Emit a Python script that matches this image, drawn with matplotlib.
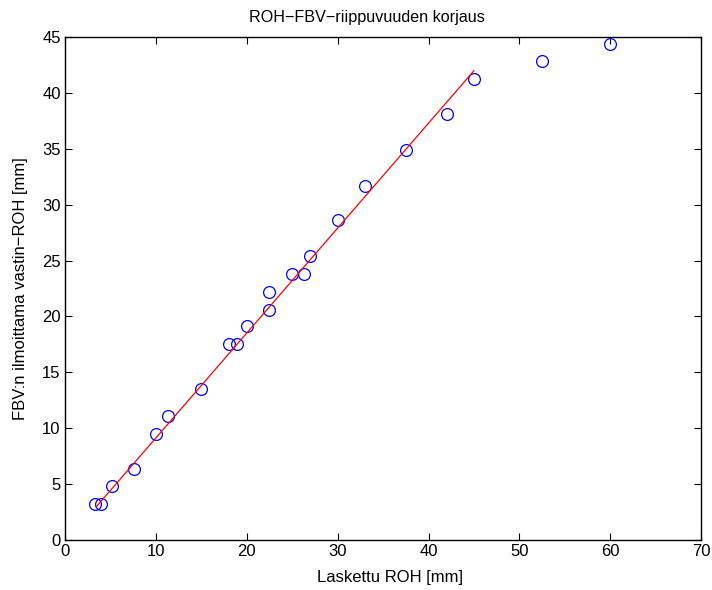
import numpy as np
import matplotlib
matplotlib.use("Agg")
import matplotlib.pyplot as plt

# measured points (computed ROH vs ROH reported by FBV)
laskettu_roh = [3.3, 4.0, 5.2, 7.6, 10.0, 11.3, 15.0, 18.1, 18.9, 20.0, 22.5, 22.5,
                25.0, 26.3, 27.0, 30.0, 33.0, 37.5, 42.0, 45.0, 52.5, 60.0]
fbv_roh = [3.2, 3.2, 4.8, 6.3, 9.5, 11.1, 13.5, 17.5, 17.5, 19.1, 20.6, 22.2,
           23.8, 23.8, 25.4, 28.6, 31.7, 34.9, 38.1, 41.3, 42.9, 44.4]

# fitted correction line endpoints
fit_x = [3.45, 45.0]
fit_y = [2.95, 42.0]

plt.rcParams['font.family'] = ['Liberation Sans', 'DejaVu Sans']
plt.rcParams['font.size'] = 12

fig = plt.figure(figsize=(7.12, 5.9), dpi=100)
ax = fig.add_axes([0.091, 0.085, 0.894, 0.852])

ax.plot(laskettu_roh, fbv_roh, 'o', markerfacecolor='none', markeredgecolor='blue',
        markersize=8.5, markeredgewidth=0.9)
ax.plot(fit_x, fit_y, '-', color='red', linewidth=0.9)

ax.set_xlim(0, 70)
ax.set_ylim(0, 45)
ax.set_xticks(np.arange(0, 71, 10))
ax.set_yticks(np.arange(0, 46, 5))
ax.tick_params(direction='in', length=5, top=True, right=True, labelsize=12, pad=3)
for s in ax.spines.values():
    s.set_linewidth(1.0)

ax.set_title('ROH\u2212FBV\u2212riippuvuuden korjaus', fontsize=11.6, x=0.474, pad=11)
ax.set_xlabel('Laskettu ROH [mm]', fontsize=12, labelpad=8, x=0.511)
ax.set_ylabel('FBV:n ilmoittama vastin\u2212ROH [mm]', fontsize=12, labelpad=10)

fig.savefig('out.png', dpi=100)
